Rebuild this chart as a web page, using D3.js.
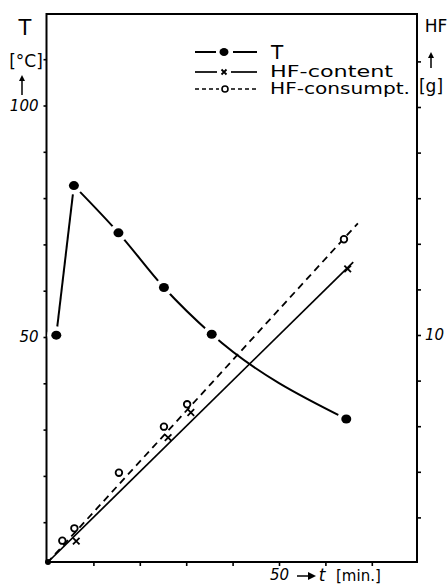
<!DOCTYPE html>
<html><head><meta charset="utf-8">
<script src="https://cdn.jsdelivr.net/npm/d3@7"></script>
<style>body{margin:0;background:#fff}svg{display:block}</style>
</head><body><svg id="c" width="447" height="587"></svg>
<script>
// ---- data ----
const tempTime   = [2, 5.8, 15.4, 25.2, 35.5, 64.5];
const tempValues = [50.4, 82.7, 72.5, 60.7, 50.6, 32.3];
const contentTime   = [0, 6.3, 26.1, 31.0, 64.8];
const contentValues = [0, 0.96, 5.5, 6.6, 12.9];
const consTime   = [0, 3.3, 5.9, 15.5, 25.2, 30.2, 64.0];
const consValues = [0, 0.98, 1.52, 3.96, 5.98, 6.96, 14.2];
const contentFitTime = [0, 66];
const contentFitValues = [0, 13.2];
const consFitTime = [0, 67];
const consFitValues = [0, 14.9];
const timeTicks = [10, 20, 30, 40, 50, 60, 70];
const timeTickLabels = {50: "50"};
const tempTicks = [10, 20, 30, 40, 50, 60, 70, 80, 90, 100, 110];
const tempTickLabels = {50: "50", 100: "100"};
const hfTicks = [2, 4, 6, 8, 10, 12, 14, 16, 18, 20, 22];
const hfTickLabels = {10: "10"};
const legendLabels = ["T", "HF-content", "HF-consumpt."];

// ---- layout ----
const L = 46.5, R = 417, Tp = 14, B = 562;
const svg = d3.select("#c");
const x = d3.scaleLinear().domain([0, 50]).range([47, 279]);
const yT = d3.scaleLinear().domain([50, 100]).range([337, 105.5]);
const yH = d3.scaleLinear().domain([0, 10]).range([563, 335]);
const hand = "'DejaVu Sans', 'Liberation Sans', sans-serif";

// frame
svg.append("rect").attr("x", L).attr("y", Tp).attr("width", R - L).attr("height", B - Tp)
  .attr("fill", "none").attr("stroke", "#000").attr("stroke-width", 2);

function styleAxis(g) {
  g.select(".domain").remove();
  g.selectAll(".tick line").attr("stroke", "#000").attr("stroke-width", 1.6);
  g.selectAll(".tick text").attr("font-family", hand).attr("font-style", "italic")
    .attr("font-size", 15).attr("fill", "#000");
}
svg.append("g").attr("transform", `translate(${L},0)`)
  .call(d3.axisLeft(yT).tickValues(tempTicks).tickSize(3).tickPadding(5)
    .tickFormat(d => tempTickLabels[d] || "")).call(styleAxis);
svg.append("g").attr("transform", `translate(${R},0)`)
  .call(d3.axisRight(yH).tickValues(hfTicks).tickSize(4).tickPadding(4)
    .tickFormat(d => hfTickLabels[d] || "")).call(styleAxis);
svg.append("g").attr("transform", `translate(0,${B})`)
  .call(d3.axisBottom(x).tickValues(timeTicks).tickSize(4).tickPadding(3)
    .tickFormat(d => timeTickLabels[d] || "")).call(styleAxis);

// axis titles
const txt = (xx, yy, s, size, opts = {}) => svg.append("text").attr("x", xx).attr("y", yy)
  .attr("font-family", hand).attr("font-size", size).attr("text-anchor", opts.anchor || "middle")
  .attr("font-style", opts.italic ? "italic" : "normal").attr("fill", "#000").text(s);
txt(25, 35, "T", 21);
txt(26, 67, "[°C]", 17);
txt(436, 32, "HF", 17);
txt(431, 92, "[g]", 17);
function upArrow(cx, y1, y2) {
  svg.append("line").attr("x1", cx).attr("x2", cx).attr("y1", y1).attr("y2", y2 + 4)
    .attr("stroke", "#000").attr("stroke-width", 1.5);
  svg.append("path").attr("d", `M${cx - 3},${y2 + 6}L${cx},${y2}L${cx + 3},${y2 + 6}Z`).attr("fill", "#000");
}
upArrow(22, 95, 75);
upArrow(431, 68, 52);
svg.append("line").attr("x1", 297).attr("x2", 310).attr("y1", 576).attr("y2", 576)
  .attr("stroke", "#000").attr("stroke-width", 1.5);
svg.append("path").attr("d", "M308,572L316,576L308,580Z").attr("fill", "#000");
txt(322, 581, "t", 17, {italic: true});
txt(336, 581, "[min.]", 15, {anchor: "start"});

// ---- lines ----
const tempData = tempTime.map((t, i) => [t, tempValues[i]]);
const contentData = contentTime.map((t, i) => [t, contentValues[i]]);
const consData = consTime.map((t, i) => [t, consValues[i]]);
const contentFit = contentFitTime.map((t, i) => [t, contentFitValues[i]]);
const consFit = consFitTime.map((t, i) => [t, consFitValues[i]]);

svg.append("path").datum(consFit)
  .attr("d", d3.line().x(d => x(d[0])).y(d => yH(d[1])))
  .attr("fill", "none").attr("stroke", "#000").attr("stroke-width", 1.8).attr("stroke-dasharray", "7,5");
svg.append("path").datum(contentFit)
  .attr("d", d3.line().x(d => x(d[0])).y(d => yH(d[1])))
  .attr("fill", "none").attr("stroke", "#000").attr("stroke-width", 1.7);

svg.append("path").datum(tempData.slice(0, 2))
  .attr("d", d3.line().x(d => x(d[0])).y(d => yT(d[1])))
  .attr("fill", "none").attr("stroke", "#000").attr("stroke-width", 2);
svg.append("path").datum(tempData.slice(1))
  .attr("d", d3.line().curve(d3.curveMonotoneX).x(d => x(d[0])).y(d => yT(d[1])))
  .attr("fill", "none").attr("stroke", "#000").attr("stroke-width", 2);

const tg = svg.append("g");
tg.selectAll("circle.gap").data(tempData).join("circle")
  .attr("cx", d => x(d[0])).attr("cy", d => yT(d[1])).attr("r", 9).attr("fill", "#fff");
tg.selectAll("ellipse").data(tempData).join("ellipse")
  .attr("cx", d => x(d[0])).attr("cy", d => yT(d[1])).attr("rx", 5).attr("ry", 4.5).attr("fill", "#000");

svg.append("g").selectAll("circle").data(consData.slice(1)).join("circle")
  .attr("cx", d => x(d[0])).attr("cy", d => yH(d[1])).attr("r", 3.3)
  .attr("fill", "#fff").attr("stroke", "#000").attr("stroke-width", 1.8);
function cross(g, cx, cy, s) {
  g.append("path").attr("d", `M${cx - s},${cy - s}L${cx + s},${cy + s}M${cx - s},${cy + s}L${cx + s},${cy - s}`)
    .attr("stroke", "#000").attr("stroke-width", 1.8).attr("fill", "none");
}
const cg = svg.append("g");
contentData.slice(1).forEach(d => cross(cg, x(d[0]), yH(d[1]), 3.3));
svg.append("circle").attr("cx", x(0) + 1).attr("cy", yH(0) - 1).attr("r", 3).attr("fill", "#000");

// ---- legend ----
const lg = svg.append("g");
const rows = [52, 72, 89];
lg.append("line").attr("x1", 195).attr("x2", 216).attr("y1", rows[0]).attr("y2", rows[0]).attr("stroke", "#000").attr("stroke-width", 2);
lg.append("line").attr("x1", 233).attr("x2", 257).attr("y1", rows[0]).attr("y2", rows[0]).attr("stroke", "#000").attr("stroke-width", 2);
lg.append("ellipse").attr("cx", 224).attr("cy", rows[0]).attr("rx", 4.5).attr("ry", 4).attr("fill", "#000");
lg.append("line").attr("x1", 195).attr("x2", 217).attr("y1", rows[1]).attr("y2", rows[1]).attr("stroke", "#000").attr("stroke-width", 1.7);
lg.append("line").attr("x1", 231).attr("x2", 257).attr("y1", rows[1]).attr("y2", rows[1]).attr("stroke", "#000").attr("stroke-width", 1.7);
cross(lg, 224, rows[1], 2.5);
lg.append("line").attr("x1", 195).attr("x2", 219).attr("y1", rows[2]).attr("y2", rows[2]).attr("stroke", "#000").attr("stroke-width", 1.6).attr("stroke-dasharray", "4,3");
lg.append("line").attr("x1", 231).attr("x2", 257).attr("y1", rows[2]).attr("y2", rows[2]).attr("stroke", "#000").attr("stroke-width", 1.6).attr("stroke-dasharray", "4,3");
lg.append("circle").attr("cx", 225).attr("cy", rows[2]).attr("r", 3).attr("fill", "#fff").attr("stroke", "#000").attr("stroke-width", 1.6);
lg.append("text").attr("x", 271).attr("y", rows[0] + 7).attr("font-family", hand).attr("font-size", 20).text(legendLabels[0]);
lg.append("text").attr("x", 270).attr("y", rows[1] + 5).attr("font-family", hand).attr("font-size", 15)
  .attr("textLength", 123).attr("lengthAdjust", "spacingAndGlyphs").text(legendLabels[1]);
lg.append("text").attr("x", 270).attr("y", rows[2] + 5).attr("font-family", hand).attr("font-size", 15)
  .attr("textLength", 140).attr("lengthAdjust", "spacingAndGlyphs").text(legendLabels[2]);
</script>
</body></html>
